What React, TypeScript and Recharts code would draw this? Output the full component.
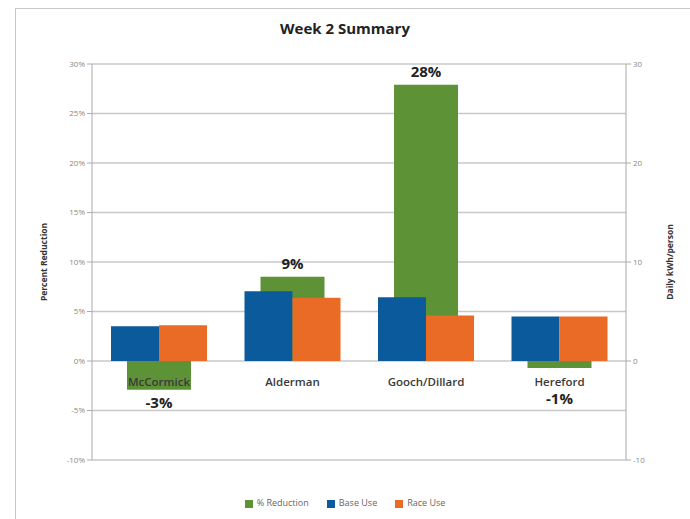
import React from "react"
import { BarChart, Bar, XAxis, YAxis, CartesianGrid, Legend, LabelList } from "recharts"

// sites in the order they appear on the chart
const sites = ["McCormick", "Alderman", "Gooch/Dillard", "Hereford"]
// % reduction (left axis), bar heights and the rounded labels shown on them
const reduction = [-2.9, 8.5, 27.9, -0.7]
const reductionLabels = ["-3%", "9%", "28%", "-1%"]
// daily kWh per person (right axis)
const baseUse = [3.5, 7.05, 6.45, 4.5]
const raceUse = [3.6, 6.4, 4.6, 4.5]

const pctTicks = [-10, -5, 0, 5, 10, 15, 20, 25, 30]
const kwhTicks = [-10, 0, 10, 20, 30]

const data = sites.map((name, i) => ({
  name,
  reduction: reduction[i],
  label: reductionLabels[i],
  base: baseUse[i],
  race: raceUse[i],
}))

const GREEN = "#5E9237"
const BLUE = "#0B5A9C"
const ORANGE = "#E96B25"
const FONT = "'Open Sans', 'Liberation Sans', sans-serif"

const box = (p: any) => {
  const x = Number(p.x ?? p.viewBox?.x ?? 0)
  const y = Number(p.y ?? p.viewBox?.y ?? 0)
  const w = Number(p.width ?? p.viewBox?.width ?? 0)
  const h = Number(p.height ?? p.viewBox?.height ?? 0)
  return { x, y, w, h }
}

// category name sits just under the zero line, like Excel does
const CategoryLabel = (p: any) => {
  const { x, y, w, h } = box(p)
  const zero = y + h
  return (
    <text x={x + w / 2} y={zero + 25} textAnchor="middle" fontFamily={FONT} fontSize={11.5} fontWeight={600} fill="#3a3a3a">
      {p.value}
    </text>
  )
}

const ValueLabel = (p: any) => {
  const { x, y, w, h } = box(p)
  const zero = y + h
  const top = Math.min(y, zero)
  const bottom = Math.max(y, zero)
  const neg = y > zero
  const ty = neg ? Math.max(bottom + 18, zero + 43) : top - 8
  return (
    <text x={x + w / 2} y={ty} textAnchor="middle" fontFamily={FONT} fontSize={15} fontWeight={700} fill="#222">
      {p.value}
    </text>
  )
}

export default function App() {
  return (
    <div style={{ position: "absolute", left: 0, top: 0, width: 690, height: 519, background: "#fff", overflow: "hidden" }}>
      <div style={{ position: "absolute", left: 15, top: 8, width: 700, height: 520, border: "1px solid #c8c8c8" }} />
      <div
        style={{
          position: "absolute",
          top: 18,
          left: 0,
          width: 690,
          textAlign: "center",
          fontFamily: FONT,
          fontWeight: 700,
          fontSize: 15,
          color: "#222",
        }}
      >
        Week 2 Summary
      </div>
      <div style={{ position: "absolute", left: 0, top: 0 }}>
        <BarChart width={690} height={519} data={data} margin={{ top: 64, right: 24, left: 42, bottom: 10 }} barGap={0}>
          <CartesianGrid yAxisId="pct" xAxisId="g" vertical={false} stroke="#c8c8c8" strokeWidth={1.3} />
          <XAxis xAxisId="g" dataKey="name" hide />
          <XAxis xAxisId="bo" dataKey="name" hide />
          <YAxis
            yAxisId="pct"
            domain={[-10, 30]}
            ticks={pctTicks}
            tickFormatter={(v) => `${v}%`}
            width={50}
            stroke="#aaa"
            tickSize={5}
            tick={{ fill: "#888", fontSize: 8, fontFamily: FONT }}
            label={{
              value: "Percent Reduction",
              angle: -90,
              position: "insideLeft",
              offset: 2,
              style: { fontSize: 8.5, fontWeight: 700, fill: "#333", fontFamily: FONT, textAnchor: "middle" },
            }}
          />
          <YAxis
            yAxisId="kwh"
            orientation="right"
            domain={[-10, 30]}
            ticks={kwhTicks}
            width={40}
            stroke="#aaa"
            tickSize={5}
            tick={{ fill: "#888", fontSize: 8, fontFamily: FONT }}
            label={{
              value: "Daily kWh/person",
              angle: -90,
              position: "insideRight",
              offset: -4,
              style: { fontSize: 8.5, fontWeight: 700, fill: "#333", fontFamily: FONT, textAnchor: "middle" },
            }}
          />
          <Legend
            verticalAlign="bottom"
            iconType="square"
            iconSize={8}
            wrapperStyle={{ paddingTop: 36, fontSize: 9, fontFamily: FONT, color: "#666" }}
            formatter={(v) => <span style={{ color: "#666", marginRight: 8 }}>{v}</span>}
          />
          <Bar xAxisId="g" yAxisId="pct" dataKey="reduction" name="% Reduction" fill={GREEN} barSize={64} isAnimationActive={false}>
            <LabelList dataKey="name" content={CategoryLabel} />
            <LabelList dataKey="label" content={ValueLabel} />
          </Bar>
          <Bar xAxisId="bo" yAxisId="kwh" dataKey="base" name="Base Use" fill={BLUE} barSize={48} isAnimationActive={false} />
          <Bar xAxisId="bo" yAxisId="kwh" dataKey="race" name="Race Use" fill={ORANGE} barSize={48} isAnimationActive={false} />
        </BarChart>
      </div>
    </div>
  )
}
